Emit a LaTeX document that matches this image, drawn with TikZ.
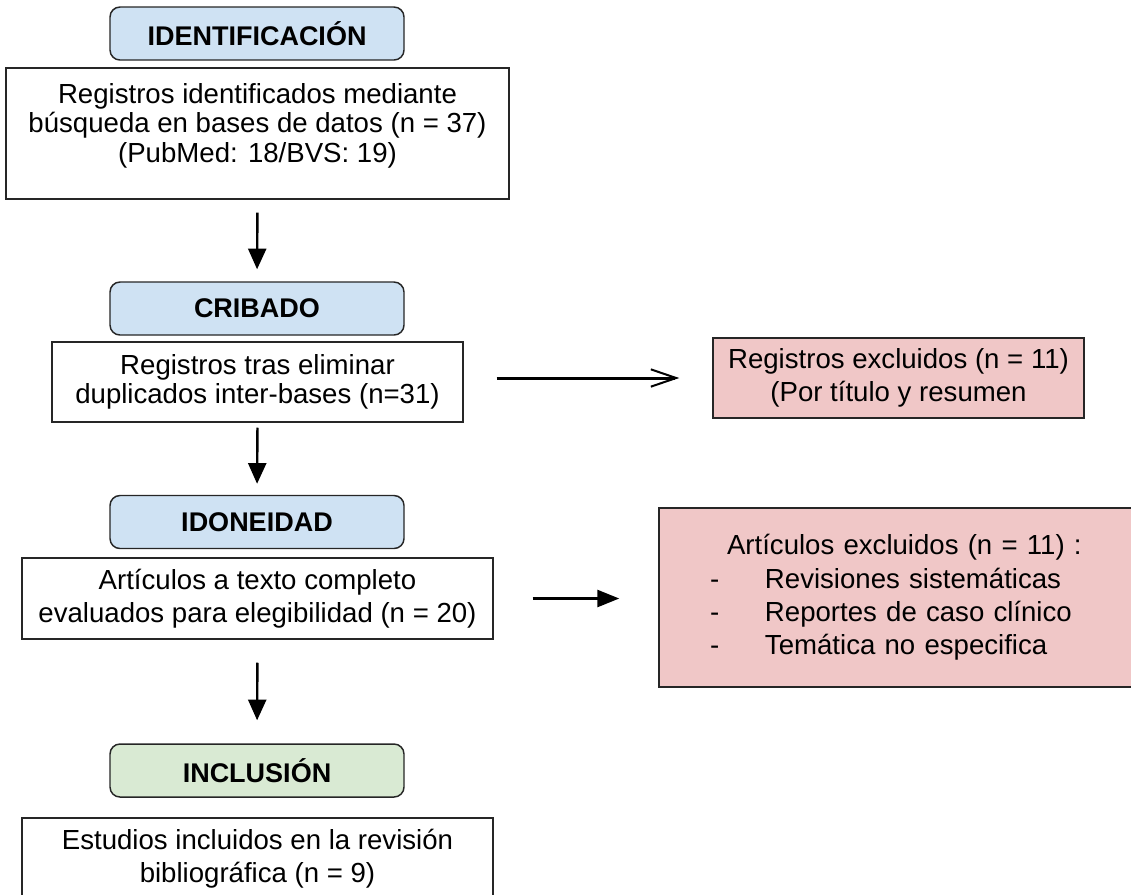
\documentclass[tikz,border=0pt]{standalone}
\usepackage{fontspec}
\setmainfont{Liberation Sans}
\usetikzlibrary{arrows.meta}

\definecolor{stageblue}{HTML}{CFE2F3}
\definecolor{stagegreen}{HTML}{D9EAD3}
\definecolor{excludedred}{HTML}{F0C7C7}

\begin{document}
\begin{tikzpicture}[
	x=0.75pt, y=-0.75pt,
	every node/.style = {draw=black!85, line width=1.1pt, align=center, inner sep=0pt},
	stage/.style = {rounded corners=7.5pt, minimum width=220.5pt, minimum height=39.75pt,
		fill=stageblue, font=\fontsize{20.25}{22}\selectfont\bfseries},
	record/.style = {font=\fontsize{20.7}{22}\selectfont},
	wide record/.style = {font=\fontsize{20.7}{25}\selectfont},
	excluded/.style = {fill=excludedred, font=\fontsize{20.7}{25}\selectfont},
	flow/.style = {line width=1.8pt, -{Triangle[length=15.5pt,width=13.5pt]}}
	]
	\useasboundingbox (0,0) rectangle (1131,894);
	\clip (0,0) rectangle (1131,894);

	% stages and records
	\node [stage] (ident) at (257,33.5) {IDENTIFICACIÓN};
	\node [record, minimum width=377.25pt, minimum height=98.25pt] (search) at (257.5,133.5)
		{Registros identificados mediante\\búsqueda en bases de datos (n = 37)\\(PubMed: 18/BVS: 19)\rule[-16pt]{0pt}{1pt}};
	\node [stage] (screen) at (257,308.5) {CRIBADO};
	\node [record, minimum width=308.25pt, minimum height=60pt] (dedup) at (257.5,382)
		{Registros tras eliminar\\duplicados inter-bases (n=31)};
	\node [stage] (elig) at (257,522) {IDONEIDAD};
	\node [wide record, minimum width=353.25pt, minimum height=60.75pt] (fulltext) at (257.5,598.5)
		{Artículos a texto completo\\evaluados para elegibilidad (n = 20)};
	\node [stage, fill=stagegreen] (incl) at (257,770.5) {INCLUSIÓN};
	\node [wide record, minimum width=353.25pt, minimum height=61.5pt] (included) at (257.5,859)
		{Estudios incluidos en la revisión\\bibliográfica (n = 9)};

	% exclusions
	\node [excluded, minimum width=278.25pt, minimum height=60pt] (excltitle) at (898.5,378)
		{Registros excluidos (n = 11)\\(Por título y resumen};
	\node [excluded, minimum width=360pt, minimum height=134.25pt, text width=283.5pt, align=left] (exclfull) at (899,597.5)
		{\hspace*{12.75pt}Artículos excluidos (n = 11) :\\
		\makebox[41.25pt][l]{-}Revisiones sistemáticas\\
		\makebox[41.25pt][l]{-}Reportes de caso clínico\\
		\makebox[41.25pt][l]{-}Temática no especifica};

	\draw [flow, shorten <=9.75pt, shorten >=9pt] (search.south) -- (screen.north);
	\draw [flow, shorten <=3.75pt, shorten >=8.25pt] (dedup.south) -- (elig.north);
	\draw [flow, shorten <=17.25pt, shorten >=17.25pt] (fulltext.south) -- (incl.north);
	\draw [line width=2.25pt, -{Straight Barb[length=19pt,width=13pt,line width=1.5pt]},
		shorten <=24.75pt, shorten >=24.75pt] (dedup.east |- excltitle.west) -- (excltitle.west);
	\draw [line width=2pt, -{Triangle[length=16.5pt,width=12.75pt]},
		shorten <=29.25pt, shorten >=29.25pt] (fulltext.east) -- (exclfull.west |- fulltext.east);
\end{tikzpicture}
\end{document}
